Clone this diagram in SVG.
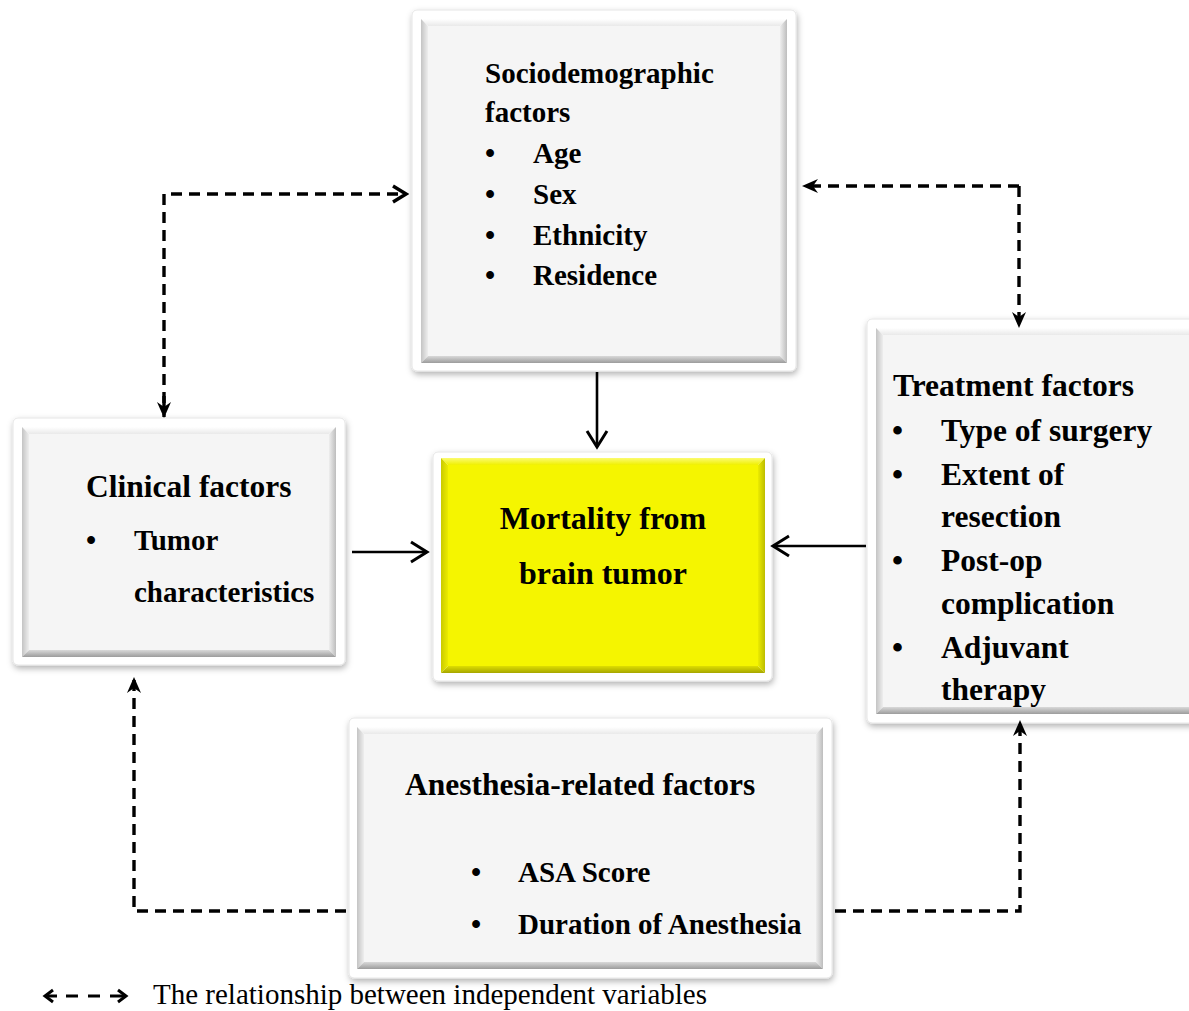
<svg xmlns="http://www.w3.org/2000/svg" width="1189" height="1011" viewBox="0 0 1189 1011">
<style>
.t{font-family:"Liberation Serif","Times New Roman",serif;font-weight:bold;fill:#000}
.h{font-size:31.5px}
.i{font-size:29px}
.frame{fill:#fff;stroke:#e6e6e6;stroke-width:1}
.face{fill:#f5f5f5}
.yface{fill:#f5f500}
.solid{fill:none;stroke:#000;stroke-width:2.6}
.dash{fill:none;stroke:#000;stroke-width:3.4;stroke-dasharray:11 7}
</style>
<defs>
<filter id="sh" x="-10%" y="-10%" width="120%" height="125%">
<feDropShadow dx="1" dy="3" stdDeviation="3" flood-color="#000" flood-opacity="0.3"/>
</filter>
<linearGradient id="gT" x1="0" y1="0" x2="0" y2="1"><stop offset="0" stop-color="#ffffff"/><stop offset="1" stop-color="#e9e9e9"/></linearGradient>
<linearGradient id="gB" x1="0" y1="0" x2="0" y2="1"><stop offset="0" stop-color="#d9d9d9"/><stop offset="1" stop-color="#9c9c9c"/></linearGradient>
<linearGradient id="gL" x1="0" y1="0" x2="1" y2="0"><stop offset="0" stop-color="#c4c4c4"/><stop offset="1" stop-color="#eeeeee"/></linearGradient>
<linearGradient id="gR" x1="0" y1="0" x2="1" y2="0"><stop offset="0" stop-color="#eeeeee"/><stop offset="1" stop-color="#bdbdbd"/></linearGradient>
<linearGradient id="yT" x1="0" y1="0" x2="0" y2="1"><stop offset="0" stop-color="#fbfb70"/><stop offset="1" stop-color="#f0f000"/></linearGradient>
<linearGradient id="yB" x1="0" y1="0" x2="0" y2="1"><stop offset="0" stop-color="#dede00"/><stop offset="1" stop-color="#a6a600"/></linearGradient>
<linearGradient id="yL" x1="0" y1="0" x2="1" y2="0"><stop offset="0" stop-color="#caca00"/><stop offset="1" stop-color="#ecec00"/></linearGradient>
<linearGradient id="yR" x1="0" y1="0" x2="1" y2="0"><stop offset="0" stop-color="#ecec00"/><stop offset="1" stop-color="#bcbc00"/></linearGradient>
<marker id="fa" markerUnits="userSpaceOnUse" viewBox="0 0 16 16" markerWidth="16" markerHeight="16" refX="15" refY="8" orient="auto">
<path d="M0,1 L16,8 L0,15 L5,8 z" fill="#000"/>
</marker>
<marker id="ch" markerUnits="userSpaceOnUse" viewBox="0 0 22 24" markerWidth="22" markerHeight="24" refX="19" refY="12" orient="auto">
<path d="M3,2 L19,12 L3,22" fill="none" stroke="#000" stroke-width="3"/>
</marker>
<marker id="chs" markerUnits="userSpaceOnUse" viewBox="0 0 18 20" markerWidth="18" markerHeight="20" refX="15" refY="10" orient="auto">
<path d="M2,2 L15,10 L2,18" fill="none" stroke="#000" stroke-width="3.4"/>
</marker>
</defs>
<rect width="1189" height="1011" fill="#fff"/>

<g id="node-sociodemographic">
<rect class="frame" x="412" y="10" width="384" height="361" rx="5" filter="url(#sh)"/>
<polygon points="421,19 787,19 780,26 428,26" fill="url(#gT)"/>
<polygon points="421,19 428,26 428,356 421,363" fill="url(#gL)"/>
<polygon points="787,19 787,363 780,356 780,26" fill="url(#gR)"/>
<polygon points="421,363 428,356 780,356 787,363" fill="url(#gB)"/>
<rect class="face" x="428" y="26" width="352" height="330"/>
<text class="t i" x="485" y="83">Sociodemographic</text>
<text class="t i" x="485" y="122">factors</text>
<text class="t i" x="485" y="163">•</text><text class="t i" x="533" y="163">Age</text>
<text class="t i" x="485" y="204">•</text><text class="t i" x="533" y="204">Sex</text>
<text class="t i" x="485" y="245">•</text><text class="t i" x="533" y="245">Ethnicity</text>
<text class="t i" x="485" y="285">•</text><text class="t i" x="533" y="285">Residence</text>
</g>

<g id="node-clinical">
<rect class="frame" x="13" y="418" width="332" height="247" rx="5" filter="url(#sh)"/>
<polygon points="22,427 336,427 329,434 29,434" fill="url(#gT)"/>
<polygon points="22,427 29,434 29,650 22,657" fill="url(#gL)"/>
<polygon points="336,427 336,657 329,650 329,434" fill="url(#gR)"/>
<polygon points="22,657 29,650 329,650 336,657" fill="url(#gB)"/>
<rect class="face" x="29" y="434" width="300" height="216"/>
<text class="t h" x="86" y="497">Clinical factors</text>
<text class="t i" x="86" y="550">•</text><text class="t i" x="134" y="550">Tumor</text>
<text class="t i" x="134" y="602">characteristics</text>
</g>

<g id="node-mortality">
<rect class="frame" x="433" y="452" width="339" height="229" rx="5" filter="url(#sh)"/>
<polygon points="441,458 765,458 758,465 448,465" fill="url(#yT)"/>
<polygon points="441,458 448,465 448,666 441,673" fill="url(#yL)"/>
<polygon points="765,458 765,673 758,666 758,465" fill="url(#yR)"/>
<polygon points="441,673 448,666 758,666 765,673" fill="url(#yB)"/>
<rect class="yface" x="448" y="465" width="310" height="201"/>
<text class="t" x="603" y="529" text-anchor="middle" style="font-size:32px">Mortality from</text>
<text class="t" x="603" y="584" text-anchor="middle" style="font-size:32px">brain tumor</text>
</g>

<g id="node-treatment">
<rect class="frame" x="867" y="319" width="340" height="404" rx="5" filter="url(#sh)"/>
<polygon points="876,328 1200,328 1193,335 883,335" fill="url(#gT)"/>
<polygon points="876,328 883,335 883,707 876,714" fill="url(#gL)"/>
<polygon points="876,714 883,707 1193,707 1200,714" fill="url(#gB)"/>
<rect class="face" x="883" y="335" width="310" height="372"/>
<text class="t h" x="893" y="396">Treatment factors</text>
<text class="t h" x="892" y="441">•</text><text class="t h" x="941" y="441">Type of surgery</text>
<text class="t h" x="892" y="485">•</text><text class="t h" x="941" y="485">Extent of</text>
<text class="t h" x="941" y="527">resection</text>
<text class="t h" x="892" y="571">•</text><text class="t h" x="941" y="571">Post-op</text>
<text class="t h" x="941" y="614">complication</text>
<text class="t h" x="892" y="658">•</text><text class="t h" x="941" y="658">Adjuvant</text>
<text class="t h" x="941" y="700">therapy</text>
</g>

<g id="node-anesthesia">
<rect class="frame" x="349" y="718" width="483" height="260" rx="5" filter="url(#sh)"/>
<polygon points="357,727 823,727 816,734 364,734" fill="url(#gT)"/>
<polygon points="357,727 364,734 364,962 357,969" fill="url(#gL)"/>
<polygon points="823,727 823,969 816,962 816,734" fill="url(#gR)"/>
<polygon points="357,969 364,962 816,962 823,969" fill="url(#gB)"/>
<rect class="face" x="364" y="734" width="452" height="228"/>
<text class="t h" x="405" y="795">Anesthesia-related factors</text>
<text class="t i" x="471" y="882">•</text><text class="t i" x="518" y="882">ASA Score</text>
<text class="t i" x="471" y="934">•</text><text class="t i" x="518" y="934">Duration of Anesthesia</text>
</g>

<g id="connectors">
<path class="solid" d="M597,372 L597,447" marker-end="url(#ch)"/>
<path class="solid" d="M352,552 L427,552" marker-end="url(#ch)"/>
<path class="solid" d="M866,546 L773,546" marker-end="url(#ch)"/>
<path class="dash" d="M164,403 L164,194 L406,194" marker-end="url(#chs)"/>
<path class="dash" d="M164,396 L164,417" marker-end="url(#fa)"/>
<path class="dash" d="M1019,186 L803,186" marker-end="url(#fa)"/>
<path class="dash" d="M1019,186 L1019,327" marker-end="url(#fa)"/>
<path class="dash" d="M346,911 L134,911 L134,678" marker-end="url(#fa)"/>
<path class="dash" d="M835,911 L1020,911 L1020,721" marker-end="url(#fa)"/>
</g>

<g id="legend">
<path d="M66,996 L78,996 M88,996 L100,996" fill="none" stroke="#000" stroke-width="3"/>
<path d="M53,990 L45,996 L53,1002" fill="none" stroke="#000" stroke-width="3"/>
<path d="M45,996 L57,996" fill="none" stroke="#000" stroke-width="3"/>
<path d="M118,990 L126,996 L118,1002" fill="none" stroke="#000" stroke-width="3"/>
<path d="M110,996 L126,996" fill="none" stroke="#000" stroke-width="3"/>
<text x="153" y="1004" style="font-family:'Liberation Serif','Times New Roman',serif;font-size:29px">The relationship between independent variables</text>
</g>
</svg>
